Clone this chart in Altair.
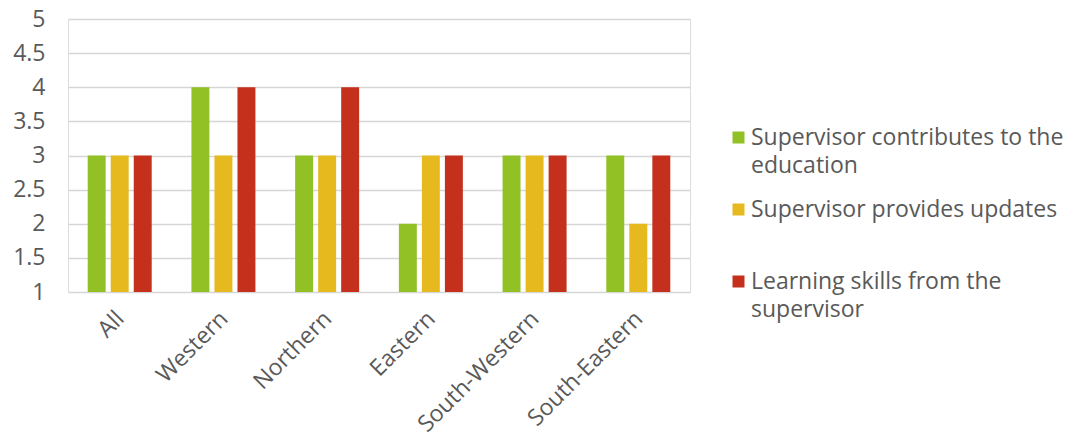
import json

import altair as alt
import pandas as pd

# Regions on the x axis
regions = ["All", "Western", "Northern", "Eastern", "South-Western", "South-Eastern"]

# Survey items (legend order)
series = [
    "Supervisor contributes to the education",
    "Supervisor provides updates",
    "Learning skills from the supervisor",
]

# Median score per region for each item
contributes = [3, 4, 3, 2, 3, 3]
updates = [3, 3, 3, 3, 3, 2]
skills = [3, 4, 4, 3, 3, 3]

colors = ["#92C125", "#E6B91E", "#C4301C"]
y_ticks = [1, 1.5, 2, 2.5, 3, 3.5, 4, 4.5, 5]

# Legend labels wrapped onto lines
legend_lines = {
    series[0]: ["Supervisor contributes to the", "education"],
    series[1]: ["Supervisor provides updates"],
    series[2]: ["Learning skills from the", "supervisor"],
}

rows = []
for name, vals in zip(series, [contributes, updates, skills]):
    for region, v in zip(regions, vals):
        rows.append({"region": region, "series": name, "score": v})
df = pd.DataFrame(rows)

label_expr = "datum.label"
for key, lines in reversed(list(legend_lines.items())):
    label_expr = f"datum.label == {json.dumps(key)} ? {json.dumps(lines)} : ({label_expr})"

FONT = "Open Sans"
TEXT = "#595959"
SIZE = 23

chart = (
    alt.Chart(df)
    .mark_bar()
    .encode(
        x=alt.X(
            "region:N",
            sort=regions,
            scale=alt.Scale(paddingInner=0.383, paddingOuter=0.19),
            axis=alt.Axis(
                title=None,
                labelAngle=-45,
                labelAlign="right",
                labelBaseline="top",
                labelPadding=15,
                labelOffset=-7,
                ticks=False,
                domain=False,
                grid=False,
                labelFont=FONT,
                labelFontSize=SIZE,
                labelColor=TEXT,
            ),
        ),
        xOffset=alt.XOffset(
            "series:N", sort=series, scale=alt.Scale(paddingInner=0.22, paddingOuter=0)
        ),
        y=alt.Y(
            "score:Q",
            scale=alt.Scale(domain=[1, 5], zero=False, nice=False),
            axis=alt.Axis(
                title=None,
                values=y_ticks,
                format="~g",
                ticks=False,
                domain=False,
                grid=True,
                gridColor="#D6D6D6",
                gridWidth=1.6,
                labelPadding=23,
                labelFont=FONT,
                labelFontSize=SIZE,
                labelColor=TEXT,
            ),
        ),
        y2=alt.datum(1),
        color=alt.Color(
            "series:N",
            sort=series,
            scale=alt.Scale(domain=series, range=colors),
            legend=alt.Legend(
                title=None,
                orient="none",
                legendX=659,
                legendY=107,
                padding=0,
                symbolType="square",
                symbolSize=144,
                symbolStrokeWidth=0,
                symbolOpacity=1,
                labelFont=FONT,
                labelFontSize=SIZE,
                labelColor=TEXT,
                labelLimit=500,
                labelOffset=1,
                rowPadding=20,
                gridAlign="all",
                labelExpr=label_expr,
            ),
        ),
    )
    .properties(
        width=622,
        height=273,
        padding={"left": 68, "top": 19, "right": 379, "bottom": 140},
        autosize=alt.AutoSizeParams(type="none"),
    )
    .configure_view(stroke=None)
    .configure(background="white", style={"guide-label": {"lineHeight": 28}})
)

chart.save("out.html", embed_options={"renderer": "svg", "actions": False})
